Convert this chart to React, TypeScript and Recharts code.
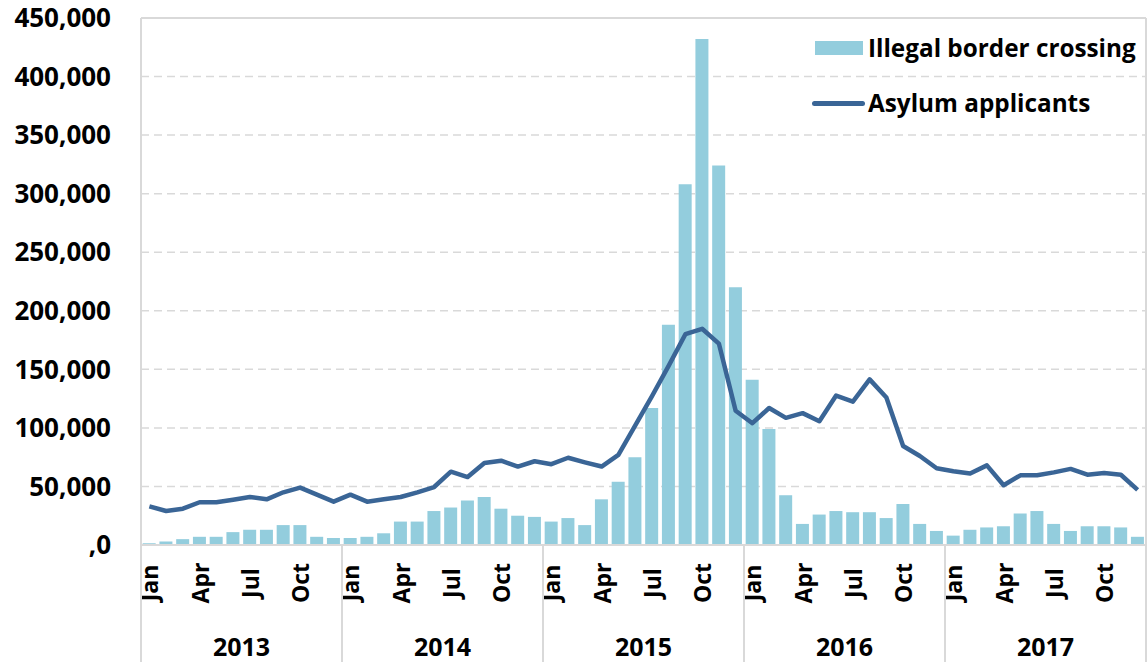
import { ComposedChart, Bar, Line, XAxis, YAxis, CartesianGrid, ReferenceLine, Legend } from "recharts";

const MONTHS = ["Jan", "Feb", "Mar", "Apr", "May", "Jun", "Jul", "Aug", "Sep", "Oct", "Nov", "Dec"];
const YEARS = ["2013", "2014", "2015", "2016", "2017"];
const LABELED_MONTHS = ["Jan", "Apr", "Jul", "Oct"];

// monthly values, Jan 2013 .. Dec 2017
const ILLEGAL_CROSSINGS = [
  1500, 3000, 5000, 7000, 7000, 11000, 13000, 13000, 17000, 17000, 7000, 6000,
  6000, 7000, 10000, 20000, 20000, 29000, 32000, 38000, 41000, 31000, 25000, 24000,
  20000, 23000, 17000, 39000, 54000, 75000, 117000, 188000, 308000, 432000, 324000, 220000,
  141000, 99000, 42500, 18000, 26000, 29000, 28000, 28000, 23000, 35000, 18000, 12000,
  8000, 13000, 15000, 16000, 27000, 29000, 18000, 12000, 16000, 16000, 15000, 7000,
];
const ASYLUM_APPLICANTS = [
  33000, 29000, 31000, 36500, 36500, 38700, 41000, 39000, 45000, 49000, 43000, 37000,
  43000, 37000, 39000, 41000, 45000, 49500, 62600, 58000, 70000, 72000, 67000, 71500,
  69000, 74500, 70600, 67000, 77000, 102000, 127000, 153000, 180000, 184600, 172000, 114600,
  104000, 117000, 108600, 112600, 105700, 127600, 122400, 141400, 126000, 84500, 76000, 65500,
  63000, 61000, 68000, 51000, 59500, 59500, 62000, 65000, 60000, 61500, 60000, 47000,
];
const Y_TICKS = [0, 50000, 100000, 150000, 200000, 250000, 300000, 350000, 400000, 450000];

const data = YEARS.flatMap((year, yi) =>
  MONTHS.map((month, mi) => ({
    month,
    year,
    crossings: ILLEGAL_CROSSINGS[yi * 12 + mi],
    asylum: ASYLUM_APPLICANTS[yi * 12 + mi],
  }))
);

const W = 1148;
const H = 662;
const Y_AXIS_W = 141;
const RIGHT_AXIS_W = 2;
const MONTH_AXIS_H = 70;
const YEAR_AXIS_H = 47;
const PLOT_BOTTOM = H - MONTH_AXIS_H - YEAR_AXIS_H;
const PLOT_W = W - Y_AXIS_W - RIGHT_AXIS_W;

const FONT = "'Open Sans', 'Noto Sans', sans-serif";
const BAR_COLOR = "#93CDDD";
const LINE_COLOR = "#3A6596";
const GRID_COLOR = "#D9D9D9";

function MonthTick({ x, payload }: any) {
  if (!LABELED_MONTHS.includes(payload.value)) return <g />;
  const cy = PLOT_BOTTOM + 38;
  return (
    <text
      x={x}
      y={cy}
      transform={`rotate(-90, ${x}, ${cy})`}
      textAnchor="middle"
      dominantBaseline="central"
      fontFamily={FONT}
      fontWeight={700}
      fontSize={23}
      fill="#000"
    >
      {payload.value}
    </text>
  );
}

function YearTick({ x, payload, index }: any) {
  const half = PLOT_W / YEARS.length / 2;
  return (
    <g>
      <line x1={x - half} x2={x - half} y1={PLOT_BOTTOM} y2={H} stroke={GRID_COLOR} strokeWidth={2} />
      {index === YEARS.length - 1 && (
        <line x1={x + half} x2={x + half} y1={PLOT_BOTTOM} y2={H} stroke={GRID_COLOR} strokeWidth={2} />
      )}
      <text
        x={x}
        y={PLOT_BOTTOM + 101}
        textAnchor="middle"
        dominantBaseline="central"
        fontFamily={FONT}
        fontWeight={700}
        fontSize={25}
        fill="#000"
      >
        {payload.value}
      </text>
    </g>
  );
}

function LegendContent() {
  return (
    <div style={{ fontFamily: FONT, fontWeight: 700, fontSize: 24.3, color: "#000", lineHeight: 1 }}>
      <div style={{ display: "flex", alignItems: "center", height: 40 }}>
        <span style={{ width: 48, height: 14, background: BAR_COLOR, marginLeft: 3, marginRight: 5 }} />
        Illegal border crossing
      </div>
      <div style={{ display: "flex", alignItems: "center", height: 40, marginTop: 15 }}>
        <span style={{ width: 53, height: 5, borderRadius: 3, background: LINE_COLOR, marginRight: 3 }} />
        Asylum applicants
      </div>
    </div>
  );
}

export default function App() {
  return (
    <div style={{ position: "absolute", left: 0, top: 0, width: W, height: H, background: "#fff" }}>
      <ComposedChart width={W} height={H} data={data} margin={{ top: 18, right: 0, bottom: 0, left: 0 }}>
        <CartesianGrid xAxisId="month" yAxisId="left" vertical={false} stroke={GRID_COLOR} strokeWidth={1.5} strokeDasharray="8 5" />
        <XAxis
          xAxisId="month"
          dataKey="month"
          interval={0}
          height={MONTH_AXIS_H}
          tick={MonthTick}
          tickLine={false}
          axisLine={{ stroke: GRID_COLOR, strokeWidth: 2 }}
        />
        <XAxis
          xAxisId="year"
          dataKey="year"
          allowDuplicatedCategory={false}
          interval={0}
          height={YEAR_AXIS_H}
          tick={YearTick}
          tickLine={false}
          axisLine={false}
        />
        <YAxis
          yAxisId="left"
          width={Y_AXIS_W}
          domain={[0, 450000]}
          ticks={Y_TICKS}
          interval={0}
          tickLine={false}
          tickMargin={24}
          axisLine={{ stroke: GRID_COLOR, strokeWidth: 2 }}
          tick={{ fontFamily: FONT, fontWeight: 700, fontSize: 26, fill: "#000" }}
          tickFormatter={(v: number) => (v === 0 ? ",0" : v.toLocaleString("en-US"))}
        />
        <YAxis
          yAxisId="right"
          orientation="right"
          width={RIGHT_AXIS_W}
          domain={[0, 450000]}
          tick={false}
          tickLine={false}
          axisLine={{ stroke: GRID_COLOR, strokeWidth: 2 }}
        />
        <ReferenceLine yAxisId="left" xAxisId="month" y={450000} stroke={GRID_COLOR} strokeWidth={2} />
        <Legend
          layout="vertical"
          align="center"
          verticalAlign="middle"
          wrapperStyle={{ top: 28, left: 812, width: 336 }}
          content={LegendContent}
        />
        <Bar
          xAxisId="month"
          yAxisId="left"
          dataKey="crossings"
          name="Illegal border crossing"
          fill={BAR_COLOR}
          isAnimationActive={false}
        />
        <Line
          xAxisId="month"
          yAxisId="left"
          type="linear"
          dataKey="asylum"
          name="Asylum applicants"
          stroke={LINE_COLOR}
          strokeWidth={4.5}
          strokeLinejoin="round"
          dot={false}
          activeDot={false}
          isAnimationActive={false}
        />
      </ComposedChart>
    </div>
  );
}
